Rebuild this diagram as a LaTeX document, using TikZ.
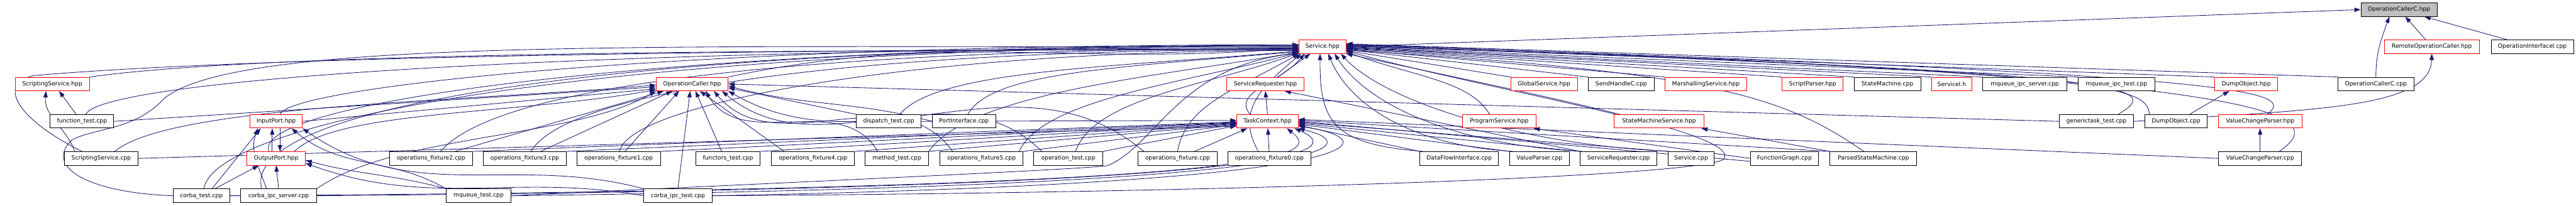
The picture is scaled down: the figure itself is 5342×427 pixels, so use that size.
\documentclass[tikz,border=0pt]{standalone}
\usepackage{fontspec}
\newfontfamily\dvs{DejaVu Sans}
\usetikzlibrary{arrows.meta}
\definecolor{mb}{RGB}{25,25,112}
\definecolor{nodegray}{RGB}{191,191,191}
\pgfdeclarelayer{bg}
\pgfdeclarelayer{paper}
\pgfsetlayers{paper,bg,main}
\tikzset{
  box/.style={draw=black, line width=0.12pt, fill=white, minimum height=2.8pt, inner sep=0pt, font=\dvs\fontsize{1.2}{1.4}\selectfont},
  rbox/.style={box, draw=red},
  gbox/.style={box, fill=nodegray},
  lnk/.style={draw=mb, line width=0.11pt, -{Triangle[length=1.3pt,width=0.9pt]}},
}
\begin{document}
\begin{tikzpicture}[x=0.1pt,y=0.1pt]
\begin{pgfonlayer}{paper}
\fill[white] (0,0) rectangle (5342,-427);
\end{pgfonlayer}
\useasboundingbox (0,0) rectangle (5342,-427);
% row 1
\node[gbox,minimum width=15.8pt] (occh) at (4975,-20) {OperationCallerC.hpp};
% row 2
\node[rbox,minimum width=9.7pt] (svch) at (2742.5,-97) {Service.hpp};
\node[rbox,minimum width=19.7pt] (roc) at (5043,-97) {RemoteOperationCaller.hpp};
\node[box,minimum width=17.1pt] (oii) at (5251.5,-97) {OperationInterfaceI.cpp};
% row 3
\node[rbox,minimum width=15.4pt] (ssh) at (108.5,-174.5) {ScriptingService.hpp};
\node[rbox,minimum width=14.9pt] (och) at (1435.3,-174.5) {OperationCaller.hpp};
\node[rbox,minimum width=16.0pt] (srh) at (2624,-174.5) {ServiceRequester.hpp};
\node[rbox,minimum width=13.8pt] (gsh) at (3202,-174.5) {GlobalService.hpp};
\node[box,minimum width=13.7pt] (shc) at (3362,-174.5) {SendHandleC.cpp};
\node[rbox,minimum width=17.0pt] (msh) at (3537.5,-174.5) {MarshallingService.hpp};
\node[rbox,minimum width=12.7pt] (sph) at (3759,-174.5) {ScriptParser.hpp};
\node[box,minimum width=13.8pt] (smc) at (3914,-174.5) {StateMachine.cpp};
\node[rbox,minimum width=8.4pt] (sih) at (4047.5,-174.5) {ServiceI.h};
\node[box,minimum width=17.4pt] (mis) at (4199,-174.5) {mqueue\_ipc\_server.cpp};
\node[box,minimum width=15.9pt] (mit) at (4389,-174.5) {mqueue\_ipc\_test.cpp};
\node[rbox,minimum width=13.1pt] (doh) at (4658,-174.5) {DumpObject.hpp};
\node[box,minimum width=15.7pt] (occc) at (4927,-174.5) {OperationCallerC.cpp};
% row 4
\node[box,minimum width=13.2pt] (ft) at (170,-252) {function\_test.cpp};
\node[rbox,minimum width=10.85pt] (iph) at (572.6,-252) {InputPort.hpp};
\node[box,minimum width=13.5pt] (dt) at (1843,-252) {dispatch\_test.cpp};
\node[box,minimum width=13.1pt] (pic) at (1999,-252) {PortInterface.cpp};
\node[rbox,minimum width=12.7pt] (tch) at (2628.5,-252) {TaskContext.hpp};
\node[rbox,minimum width=15.3pt] (psh) at (3109,-252) {ProgramService.hpp};
\node[rbox,minimum width=18.6pt] (smsh) at (3440.5,-252) {StateMachineService.hpp};
\node[box,minimum width=15.5pt] (gtt) at (4347.5,-252) {generictask\_test.cpp};
\node[box,minimum width=12.9pt] (doc) at (4512.5,-252) {DumpObject.cpp};
\node[rbox,minimum width=17.35pt] (vcph) at (4687,-252) {ValueChangeParser.hpp};
% row 5
\node[box,minimum width=15.2pt] (ssc) at (210,-329) {ScriptingService.cpp};
\node[rbox,minimum width=12.1pt] (oph) at (572.6,-329) {OutputPort.hpp};
\node[box,minimum width=17.2pt] (of2) at (893.7,-329) {operations\_fixture2.cpp};
\node[box,minimum width=17.2pt] (of3) at (1088.3,-329) {operations\_fixture3.cpp};
\node[box,minimum width=17.3pt] (of1) at (1283,-329) {operations\_fixture1.cpp};
\node[box,minimum width=13.3pt] (fnt) at (1509.6,-329) {functors\_test.cpp};
\node[box,minimum width=17.2pt] (of4) at (1686,-329) {operations\_fixture4.cpp};
\node[box,minimum width=13.1pt] (mt) at (1860,-329) {method\_test.cpp};
\node[box,minimum width=17.2pt] (of5) at (2035.4,-329) {operations\_fixture5.cpp};
\node[box,minimum width=14.3pt] (ot) at (2215.3,-329) {operation\_test.cpp};
\node[box,minimum width=16.5pt] (of) at (2442,-329) {operations\_fixture.cpp};
\node[box,minimum width=17.2pt] (of0) at (2632.5,-329) {operations\_fixture0.cpp};
\node[box,minimum width=16.3pt] (dfi) at (3026,-329) {DataFlowInterface.cpp};
\node[box,minimum width=12.3pt] (vp) at (3192.5,-329) {ValueParser.cpp};
\node[box,minimum width=15.9pt] (src) at (3356.5,-329) {ServiceRequester.cpp};
\node[box,minimum width=9.6pt] (sc) at (3507,-329) {Service.cpp};
\node[box,minimum width=14.1pt] (fg) at (3700.5,-329) {FunctionGraph.cpp};
\node[box,minimum width=18.0pt] (psm) at (3885,-329) {ParsedStateMachine.cpp};
\node[box,minimum width=17.2pt] (vcpc) at (4687,-329) {ValueChangeParser.cpp};
% row 6
\node[box,minimum width=11.8pt] (ct) at (417.6,-406.5) {corba\_test.cpp};
\node[box,minimum width=15.7pt] (cis) at (577.8,-406.5) {corba\_ipc\_server.cpp};
\node[box,minimum width=13.4pt] (mqt) at (992.5,-406.5) {mqueue\_test.cpp};
\node[box,minimum width=14.2pt] (cit) at (1405.8,-406.5) {corba\_ipc\_test.cpp};

\begin{pgfonlayer}{bg}
% OperationCallerC.hpp
\draw[lnk] (svch.east) -- (occh.west);
\draw[lnk] (roc) -- (occh);
\draw[lnk] (oii) -- (occh);
\draw[lnk] (occc.north) to[out=90,in=-110] ([xshift=-2pt]occh.south);
% RemoteOperationCaller.hpp
\draw[lnk] (gtt.east) .. controls (4800,-228) and (5040,-225) .. (roc.south);
% ScriptingService.hpp
\draw[lnk] ([xshift=-5.5pt]ssc.north) to[out=110,in=-95] ([xshift=-1.3pt]ssh.south);
\draw[lnk] ([xshift=-1.2pt]ft.north) -- ([xshift=1.4pt]ssh.south);
% Service.hpp from the left
\draw[lnk] (ssh.north east) to[out=8,in=180,out distance=40pt,in distance=90pt] ([yshift=-0.7pt]svch.west);
\draw[lnk] ([xshift=-4pt]ssc.north) .. controls (40,-250) and (-10,-175) .. (70,-157) to[out=5,in=180,out distance=50pt,in distance=90pt] ([yshift=-0.5pt]svch.west);
\draw[lnk] ([xshift=0.8pt]ft.north) to[out=65,in=180,out distance=8pt,in distance=150pt] ([yshift=-0.3pt]svch.west);
\draw[lnk] (ct.west) .. controls (180,-400) and (90,-345) .. (150,-290) .. controls (200,-265) and (280,-270) .. (340,-205) to[out=40,in=180,out distance=20pt,in distance=130pt] ([yshift=-0.1pt]svch.west);
\draw[lnk] ([xshift=0.5pt]ct.north) to[out=80,in=180,out distance=15pt,in distance=140pt] ([yshift=0.1pt]svch.west);
\draw[lnk] ([xshift=-3.5pt]cis.north) to[out=105,in=180,out distance=18pt,in distance=140pt] ([yshift=0.2pt]svch.west);
\draw[lnk] ([xshift=-1.5pt]oph.north) to[out=110,in=180,out distance=11pt,in distance=130pt] ([yshift=0.3pt]svch.west);
\draw[lnk] ([xshift=0.8pt]iph.north) to[out=70,in=180,out distance=6pt,in distance=130pt] ([yshift=0.4pt]svch.west);
\draw[lnk] (och.north east) to[out=12,in=185] ([yshift=-0.2pt]svch.west);
\draw[lnk] ([xshift=2pt]of2.north) to[out=50,in=180,out distance=20pt,in distance=90pt] ([yshift=-0.4pt]svch.west);
\draw[lnk] ([xshift=1.3pt]of3.north) to[out=60,in=180,out distance=15pt,in distance=90pt] ([yshift=-0.6pt]svch.west);
\draw[lnk] ([xshift=0.2pt]of1.north) to[out=80,in=180,out distance=10pt,in distance=80pt] ([yshift=-0.8pt]svch.west);
\draw[lnk] ([xshift=2.3pt]dt.north) to[out=50,in=185,out distance=12pt,in distance=40pt] ([yshift=-0.9pt]svch.west);
\draw[lnk] ([xshift=0.8pt]pic.north) to[out=60,in=185,out distance=10pt,in distance=40pt] ([yshift=-1pt]svch.west);
\draw[lnk] (mt.north east) to[out=55,in=190,out distance=15pt,in distance=30pt] ([yshift=-1.1pt]svch.west);
\draw[lnk] ([xshift=7.8pt]of5.north) to[out=65,in=195,out distance=12pt,in distance=25pt] ([yshift=-1.2pt]svch.west);
\draw[lnk] ([xshift=1.5pt]ot.north) to[out=70,in=200,out distance=12pt,in distance=20pt] ([yshift=-1.3pt]svch.west);
\draw[lnk] (of.north) to[out=80,in=210,out distance=10pt,in distance=15pt] (svch.south west);
\draw[lnk] ([xshift=-2.3pt]of0.north) to[out=120,in=220,out distance=10pt,in distance=10pt] ([xshift=0.5pt]svch.south west);
\draw[lnk] ([xshift=-3.6pt]tch.north) to[out=130,in=230,out distance=6pt,in distance=8pt] ([xshift=1.2pt]svch.south west);
\draw[lnk] ([xshift=2.6pt]srh.north) -- ([xshift=-2.5pt]svch.south);
\draw[lnk] (mqt.east) .. controls (1500,-385) and (2250,-352) .. (2297,-344) .. controls (2400,-300) and (2440,-140) .. ([yshift=-1.3pt]svch.west);
\draw[lnk] (cit.east) .. controls (2600,-400) and (3540,-365) .. (3575,-330) .. controls (3610,-280) and (3200,-200) .. (svch.south east);
% Service.hpp from below and right
\draw[lnk] ([xshift=-7.5pt]dfi.north) .. controls (2760,-300) and (2737,-250) .. ([xshift=-0.5pt]svch.south);
\draw[lnk] ([xshift=-5.5pt]vp.north) .. controls (2900,-300) and (2790,-200) .. ([xshift=1.2pt]svch.south);
\draw[lnk] ([xshift=-7.5pt]src.north) .. controls (3000,-300) and (2830,-210) .. ([xshift=2.5pt]svch.south);
\draw[lnk] ([xshift=-4.5pt]sc.north) .. controls (3150,-300) and (2870,-210) .. ([xshift=3.8pt]svch.south);
\draw[lnk] ([xshift=-2pt]psh.north) to[out=120,in=-20,out distance=8pt,in distance=15pt] ([yshift=0.4pt]svch.south east);
\draw[lnk] ([xshift=-9pt]smsh.north) .. controls (3200,-200) and (2950,-150) .. ([yshift=0.6pt]svch.south east);
\draw[lnk] (gsh.north west) -- ([yshift=-0.8pt]svch.east);
\draw[lnk] (shc.north west) -- ([yshift=-0.6pt]svch.east);
\draw[lnk] (msh.north west) -- ([yshift=-0.5pt]svch.east);
\draw[lnk] (sph.north west) -- ([yshift=-0.4pt]svch.east);
\draw[lnk] (smc.north west) -- ([yshift=-0.3pt]svch.east);
\draw[lnk] (sih.north west) -- ([yshift=-0.2pt]svch.east);
\draw[lnk] (mis.north west) -- ([yshift=-0.1pt]svch.east);
\draw[lnk] (mit.north west) -- (svch.east);
\draw[lnk] ([xshift=-2pt]psm.north) .. controls (3700,-200) and (3550,-150) .. ([yshift=-0.7pt]svch.east);
\draw[lnk] ([xshift=4.5pt]gtt.north) .. controls (4490,-180) and (4450,-150) .. ([yshift=0.1pt]svch.east);
\draw[lnk] ([xshift=-5.5pt]doc.north) .. controls (4450,-180) and (4400,-150) .. ([yshift=0.2pt]svch.east);
\draw[lnk] (doh.north west) -- ([yshift=0.3pt]svch.east);
\draw[lnk] ([xshift=1.5pt]vcph.north) .. controls (4760,-190) and (4700,-155) .. ([yshift=0.4pt]svch.east);
\draw[lnk] ([xshift=4pt]vcpc.north) .. controls (4830,-240) and (4790,-160) .. ([yshift=0.5pt]svch.east);
\draw[lnk] (occc.north west) -- ([yshift=0.6pt]svch.east);
% OperationCaller.hpp
\draw[lnk] (ft.east) -- ([yshift=-0.6pt]och.west);
\draw[lnk] (iph.east) -- ([yshift=-1pt]och.west);
\draw[lnk] ([xshift=2.8pt]ssc.north) to[out=40,in=185,out distance=15pt,in distance=40pt] ([yshift=-0.2pt]och.west);
\draw[lnk] ([xshift=3.8pt]oph.north) to[out=45,in=190,out distance=12pt,in distance=30pt] ([yshift=-1.2pt]och.west);
\draw[lnk] (cis.north east) to[out=35,in=210,out distance=20pt,in distance=20pt] (och.south west);
\draw[lnk] ([xshift=5pt]of2.north) -- ([xshift=-5.9pt]och.south);
\draw[lnk] ([xshift=3.3pt]of3.north) -- ([xshift=-4.1pt]och.south);
\draw[lnk] ([xshift=1.3pt]of1.north) -- ([xshift=-2.7pt]och.south);
\draw[lnk] (cit.north) -- ([xshift=-0.4pt]och.south);
\draw[lnk] ([xshift=-1.3pt]fnt.north) -- ([xshift=0.7pt]och.south);
\draw[lnk] ([xshift=-6pt]of4.north) -- ([xshift=1.6pt]och.south);
\draw[lnk] ([xshift=-4pt]mt.north) to[out=120,in=-60] ([xshift=2.8pt]och.south);
\draw[lnk] ([xshift=-6pt]of5.north) to[out=125,in=-50] ([xshift=4.5pt]och.south);
\draw[lnk] ([xshift=-5.5pt]ot.north) to[out=135,in=-40] ([xshift=6.2pt]och.south);
\draw[lnk] ([xshift=-7pt]of.north) to[out=140,in=-30] (och.south east);
\draw[lnk] (dt.north west) -- ([yshift=-0.8pt]och.east);
\draw[lnk] (pic.west) to[out=165,in=-15] ([yshift=-0.4pt]och.east);
\draw[lnk] (gtt.west) -- (och.east);
% TaskContext.hpp
\draw[lnk] (ssc.east) -- ([yshift=-1pt]tch.west);
\draw[lnk] (of2.north east) -- ([yshift=-0.1pt]tch.west);
\draw[lnk] (of3.north east) -- ([yshift=-0.2pt]tch.west);
\draw[lnk] (of1.north east) -- ([yshift=-0.3pt]tch.west);
\draw[lnk] (fnt.north east) -- ([yshift=-0.4pt]tch.west);
\draw[lnk] (of4.north east) -- ([yshift=-0.5pt]tch.west);
\draw[lnk] (mt.north east) -- ([yshift=-0.6pt]tch.west);
\draw[lnk] (of5.north east) -- ([yshift=-0.7pt]tch.west);
\draw[lnk] (ot.north east) -- ([yshift=-0.9pt]tch.west);
\draw[lnk] (dt.east) -- ([yshift=0.2pt]tch.west);
\draw[lnk] ([xshift=3.5pt]of.north) -- ([xshift=-4.2pt]tch.south);
\draw[lnk] (of0) -- (tch);
\draw[lnk] (ct.east) .. controls (2737,-392) and (2737,-320) .. ([xshift=-2.4pt]tch.south east);
\draw[lnk] (cis.east) .. controls (2785,-390) and (2783,-310) .. ([xshift=-0.8pt]tch.south east);
\draw[lnk] (mqt.east) .. controls (2835,-385) and (2830,-300) .. (tch.south east);
\draw[lnk] (cit.east) .. controls (2885,-380) and (2880,-290) .. ([yshift=-1pt]tch.east);
\draw[lnk] (dfi.north west) -- ([yshift=-0.8pt]tch.east);
\draw[lnk] (vp.north west) -- ([yshift=-0.6pt]tch.east);
\draw[lnk] (src.north west) -- ([yshift=-0.4pt]tch.east);
\draw[lnk] (sc.north west) -- ([yshift=-0.2pt]tch.east);
\draw[lnk] ([yshift=-0.6pt]fg.west) -- (tch.east);
\draw[lnk] (psm.north west) -- ([yshift=0.2pt]tch.east);
\draw[lnk] (vcpc.west) -- ([yshift=0.4pt]tch.east);
% ServiceRequester.hpp
\draw[lnk] (tch.north) -- (srh.south);
\draw[lnk] (src.north west) -- ([xshift=4pt]srh.south);
% ProgramService.hpp / StateMachineService.hpp
\draw[lnk] (fg.west) -- ([xshift=-0.6pt]psh.south east);
\draw[lnk] (psm.north west) -- ([xshift=-0.6pt]smsh.south east);
% InputPort.hpp / OutputPort.hpp
\draw[lnk] ([xshift=2.2pt]ct.north) -- ([xshift=-3.2pt]iph.south);
\draw[lnk] ([xshift=-2.5pt]cis.north) to[out=110,in=-110] ([xshift=-3.8pt]iph.south);
\draw[lnk] ([xshift=-0.8pt]oph.north) -- ([xshift=-0.8pt]iph.south);
\draw[lnk] ([xshift=0.8pt]iph.south) -- ([xshift=0.8pt]oph.north);
\draw[lnk] (mqt.north west) to[out=150,in=-40] ([xshift=3.2pt]iph.south);
\draw[lnk] (cit.north west) to[out=165,in=-35] (iph.south east);
\draw[lnk] ([xshift=2.8pt]ct.north) -- ([xshift=-3.6pt]oph.south);
\draw[lnk] (cis.north) -- (oph.south);
\draw[lnk] (mqt.north west) to[out=165,in=-15] ([yshift=-0.4pt]oph.east);
\draw[lnk] (cit.west) to[out=170,in=-20] ([yshift=-1pt]oph.east);
% DumpObject.hpp / ValueChangeParser.hpp
\draw[lnk] ([xshift=2.8pt]doc.north) -- ([xshift=-3.5pt]doh.south);
\draw[lnk] (vcpc) -- (vcph);
\end{pgfonlayer}
\end{tikzpicture}
\end{document}
